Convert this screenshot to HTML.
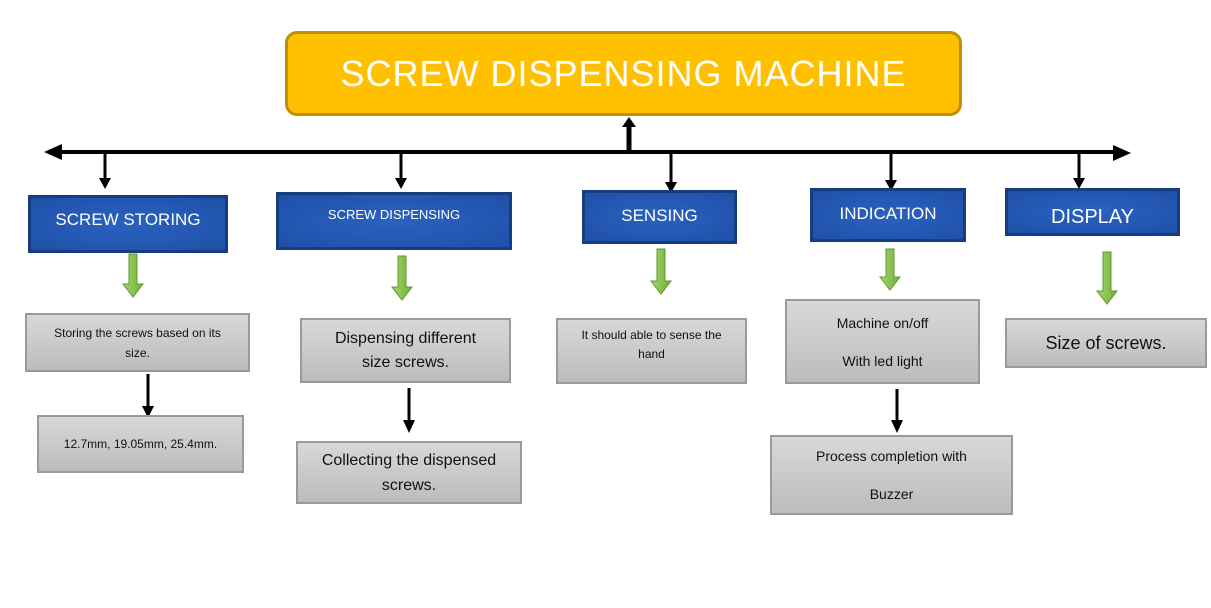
<!DOCTYPE html>
<html><head><meta charset="utf-8"><style>
body{margin:0;width:1211px;height:608px;background:#fff;position:relative;overflow:hidden;font-family:"Liberation Sans",sans-serif}
.b{position:absolute;box-sizing:border-box;color:#fff;text-align:center;background:radial-gradient(ellipse at center,#2a62c0,#1f50a8);border:3px solid #163d80}
.g{position:absolute;box-sizing:border-box;color:#111;text-align:center;background:linear-gradient(#d8d8d8,#bcbcbc);border:2px solid #9a9a9a;display:flex;flex-direction:column;justify-content:center}
svg{position:absolute;left:0;top:0}
</style></head><body>
<div style="position:absolute;left:285px;top:31px;width:677px;height:85px;box-sizing:border-box;background:#FFC000;border:3px solid #c09000;border-radius:12px;color:#fff;font-size:36px;text-align:center;line-height:80px;letter-spacing:1px">SCREW DISPENSING MACHINE</div>
<svg width="1211" height="608">
<defs>
<marker id="a" markerWidth="4" markerHeight="4" refX="2" refY="2" orient="auto"><path d="M0,0L4,2L0,4z" fill="#000"/></marker>
<linearGradient id="gr" x1="0" x2="1"><stop offset="0" stop-color="#a6d86a"/><stop offset="1" stop-color="#6fae3a"/></linearGradient>
</defs>
<line x1="60" y1="152" x2="1115" y2="152" stroke="#000" stroke-width="4"/>
<path d="M44,152L62,144L62,160z" fill="#000"/>
<path d="M1131,153L1113,145L1113,161z" fill="#000"/>
<line x1="629" y1="124" x2="629" y2="152" stroke="#000" stroke-width="5"/>
<path d="M629,117L622,127L636,127z" fill="#000"/>
<g stroke="#000" stroke-width="3" fill="#000">
<line x1="105" y1="152" x2="105" y2="180"/><path d="M99,178L111,178L105,189z" stroke="none"/>
<line x1="401" y1="152" x2="401" y2="180"/><path d="M395,178L407,178L401,189z" stroke="none"/>
<line x1="671" y1="152" x2="671" y2="184"/><path d="M665,182L677,182L671,193z" stroke="none"/>
<line x1="891" y1="152" x2="891" y2="182"/><path d="M885,180L897,180L891,191z" stroke="none"/>
<line x1="1079" y1="152" x2="1079" y2="180"/><path d="M1073,178L1085,178L1079,189z" stroke="none"/>
<line x1="148" y1="374" x2="148" y2="408"/><path d="M142,406L154,406L148,418z" stroke="none"/>
<line x1="409" y1="388" x2="409" y2="422"/><path d="M403,420L415,420L409,433z" stroke="none"/>
<line x1="897" y1="389" x2="897" y2="422"/><path d="M891,420L903,420L897,433z" stroke="none"/>
</g>
<g fill="url(#gr)" stroke="#5d9a30" stroke-width="1">
<path d="M129,254h8v30h6l-10,13l-10,-13h6z"/>
<path d="M398,256h8v31h6l-10,13l-10,-13h6z"/>
<path d="M657,249h8v32h6l-10,13l-10,-13h6z"/>
<path d="M886,249h8v28h6l-10,13l-10,-13h6z"/>
<path d="M1103,252h8v39h6l-10,13l-10,-13h6z"/>
</g>
</svg>
<div class="b" style="left:28px;top:195px;width:200px;height:58px;font-size:17px;line-height:44px">SCREW STORING</div>
<div class="b" style="left:276px;top:192px;width:236px;height:58px;font-size:13px;padding-top:12px">SCREW DISPENSING</div>
<div class="b" style="left:582px;top:190px;width:155px;height:54px;font-size:17px;line-height:46px">SENSING</div>
<div class="b" style="left:810px;top:188px;width:156px;height:54px;font-size:17px;line-height:46px">INDICATION</div>
<div class="b" style="left:1005px;top:188px;width:175px;height:48px;font-size:20px;line-height:52px">DISPLAY</div>
<div class="g" style="left:25px;top:313px;width:225px;height:59px;font-size:12px;line-height:20px">Storing the screws based on its<br>size.</div>
<div class="g" style="left:300px;top:318px;width:211px;height:65px;font-size:16px;line-height:24px">Dispensing different<br>size screws.</div>
<div class="g" style="left:556px;top:318px;width:191px;height:66px;font-size:12px;line-height:19px;justify-content:flex-start;padding-top:6px">It should able to sense the<br>hand</div>
<div class="g" style="left:785px;top:299px;width:195px;height:85px;font-size:14px;line-height:38px">Machine on/off<br>With led light</div>
<div class="g" style="left:1005px;top:318px;width:202px;height:50px;font-size:18px;line-height:24px">Size of screws.</div>
<div class="g" style="left:37px;top:415px;width:207px;height:58px;font-size:12px">12.7mm, 19.05mm, 25.4mm.</div>
<div class="g" style="left:296px;top:441px;width:226px;height:63px;font-size:16px;line-height:25px">Collecting the dispensed<br>screws.</div>
<div class="g" style="left:770px;top:435px;width:243px;height:80px;font-size:14px;line-height:38px">Process completion with<br>Buzzer</div>
</body></html>
